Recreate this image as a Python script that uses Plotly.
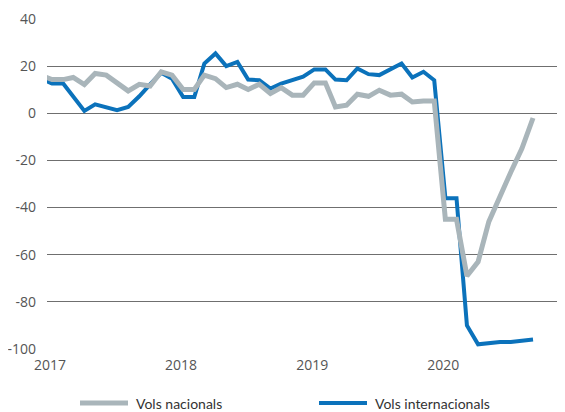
import pandas as pd
import plotly.graph_objects as go

# monthly points, plotted at mid-month (Dec 2016 is clipped by the axis start)
months = pd.date_range("2016-12-01", "2020-09-01", freq="MS") + pd.Timedelta(days=14)

vols_nacionals = [
    16.1,
    14.3, 14.3, 15.2, 12.2, 16.9, 16.2, 12.9, 9.5, 12.3, 11.6, 17.6, 16.2,
    10.1, 10.1, 16.2, 14.7, 10.9, 12.3, 10.1, 12.3, 8.4, 10.9, 7.7, 7.7,
    12.9, 12.9, 2.7, 3.4, 8.1, 7.2, 9.8, 7.7, 8.1, 4.8, 5.2, 5.2,
    -45, -45, -69, -63, -46, -35, -25, -15, -2,
]
vols_internacionals = [
    14.8,
    12.6, 12.6, 7.0, 1.0, 3.8, 2.4, 1.3, 2.7, 7.2, 12.3, 17.2, 14.7,
    6.9, 6.9, 21.1, 25.4, 20.0, 21.8, 14.3, 14.0, 10.5, 12.6, 14.3, 15.5,
    18.6, 18.6, 14.3, 14.0, 19.0, 16.6, 16.2, 18.6, 21.1, 15.2, 17.6, 14.0,
    -36, -36, -90, -98, -97.5, -97, -97, -96.5, -96,
]

y_ticks = [40, 20, 0, -20, -40, -60, -80, -100]
y_tick_labels = ["40", "20", "0", "-20", "-40", "-60", "-80", "-100"]

series_names = ["Vols nacionals", "Vols internacionals"]
GREY = "#a9b5ba"
BLUE = "#0b72bb"
TEXT = "#555555"
GRID = "#6f6f6f"
FONT = "Open Sans"

x_range = ["2017-01-01", "2020-12-13"]
y_range = [-100, 40]

fig = go.Figure()

fig.add_trace(go.Scatter(
    x=months, y=vols_internacionals, mode="lines",
    line=dict(color=BLUE, width=4), name=series_names[1],
    showlegend=False,
))
fig.add_trace(go.Scatter(
    x=months, y=vols_nacionals, mode="lines",
    line=dict(color=GREY, width=5), name=series_names[0],
    showlegend=False,
))

# the page body adds an 8px offset, so the figure is sized to fit the window
OFF = 8
plot_l, plot_r, plot_t, plot_b = 47, 565, 19, 349
plot_w, plot_h = plot_r - plot_l, plot_b - plot_t

# hand-drawn legend below the plot (long line samples like the original)
legend_items = [
    (series_names[0], GREY, 5, 80),
    (series_names[1], BLUE, 4, 319),
]
leg_y = (plot_b - 403) / plot_h
for label, color, width, px in legend_items:
    fig.add_shape(type="line", xref="paper", yref="paper",
                  x0=(px - plot_l) / plot_w, x1=(px + 48 - plot_l) / plot_w,
                  y0=leg_y, y1=leg_y,
                  line=dict(color=color, width=width))
    fig.add_annotation(xref="paper", yref="paper",
                       x=(px + 54 - plot_l) / plot_w, y=leg_y,
                       text=label, showarrow=False,
                       xanchor="left", yanchor="middle",
                       font=dict(family="Lato", size=14, color="#333333"))

fig.update_layout(
    width=565 - OFF,
    height=412 - OFF,
    margin=dict(l=plot_l - OFF, r=0, t=plot_t - OFF, b=412 - plot_b, pad=0),
    plot_bgcolor="white",
    paper_bgcolor="white",
    font=dict(family=FONT, size=14, color=TEXT),
    xaxis=dict(
        type="date", range=x_range,
        tick0="2017-01-01", dtick="M12", tickformat="%Y",
        showgrid=False, zeroline=False, showline=False,
        ticks="", ticklabelstandoff=6, ticklabelshift=3,
        tickfont=dict(family=FONT, size=14, color=TEXT),
    ),
    # tick marks sit on the zero line, as in the original
    xaxis2=dict(
        type="date", range=x_range, overlaying="x",
        anchor="free", position=(0 - y_range[0]) / (y_range[1] - y_range[0]),
        tick0="2017-01-01", dtick="M12",
        ticks="outside", ticklen=5, tickwidth=1, tickcolor=GRID,
        showticklabels=False, showgrid=False, zeroline=False, showline=False,
    ),
    yaxis=dict(
        range=y_range, tickmode="array",
        tickvals=y_ticks, ticktext=y_tick_labels,
        showgrid=True, gridcolor=GRID, gridwidth=1,
        zeroline=False, showline=False, ticks="",
        ticklabelstandoff=10,
        tickfont=dict(family=FONT, size=14, color=TEXT),
    ),
    showlegend=False,
)

fig.write_html("out.html")
